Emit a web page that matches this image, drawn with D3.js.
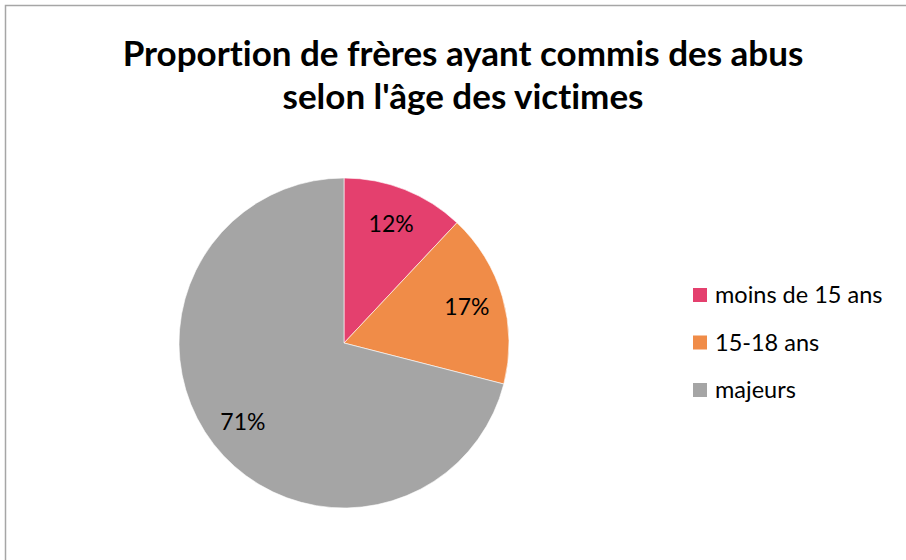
<!DOCTYPE html>
<html>
<head>
<meta charset="utf-8">
<script src="https://cdn.jsdelivr.net/npm/d3@7"></script>
<style>
  body { margin: 0; background: #fff; }
  svg { display: block; font-family: Lato, "Open Sans", sans-serif; font-variant-ligatures: none; }
</style>
</head>
<body>
<script>
// data
var categories = ["moins de 15 ans", "15-18 ans", "majeurs"];
var values = [12, 17, 71];
var colors = ["#E4406E", "#F08C48", "#A5A5A5"];
var titleLines = ["Proportion de frères ayant commis des abus", "selon l'âge des victimes"];

var W = 906, H = 560;

var svg = d3.select("body")
    .append("svg")
    .attr("width", W)
    .attr("height", H);

// chart frame
svg.append("rect")
    .attr("x", 5.5)
    .attr("y", 5.5)
    .attr("width", W + 10)
    .attr("height", H + 10)
    .attr("fill", "#fff")
    .attr("stroke", "#a6a6a6")
    .attr("stroke-width", 1.5);

// title
svg.append("g")
    .selectAll("text")
    .data(titleLines)
    .enter()
    .append("text")
    .attr("x", 463)
    .attr("y", (d, i) => 66 + i * 43)
    .attr("text-anchor", "middle")
    .attr("font-size", 35)
    .attr("font-weight", "bold")
    .attr("fill", "#000")
    .text(d => d);

var cx = 344, cy = 343, R = 165;

var pie = d3.pie().sort(null).value(d => d);
var arcs = pie(values);
var arc = d3.arc().innerRadius(0).outerRadius(R);
var labelArc = d3.arc().innerRadius(128).outerRadius(128);

var g = svg.append("g").attr("transform", "translate(" + cx + "," + cy + ")");

g.selectAll("path")
    .data(arcs)
    .enter()
    .append("path")
    .attr("d", arc)
    .attr("fill", (d, i) => colors[i])
    .attr("stroke", "#fff")
    .attr("stroke-width", 0.6);

g.selectAll("text.pct")
    .data(arcs)
    .enter()
    .append("text")
    .attr("class", "pct")
    .attr("transform", d => "translate(" + labelArc.centroid(d) + ")")
    .attr("text-anchor", "middle")
    .attr("dy", "0.35em")
    .attr("font-size", 23)
    .attr("fill", "#000")
    .text(d => Math.round(d.data) + "%");

// legend
var legend = svg.append("g")
    .selectAll("g")
    .data(categories)
    .enter()
    .append("g")
    .attr("transform", (d, i) => "translate(693," + (288 + i * 47.5) + ")");

legend.append("rect")
    .attr("width", 14)
    .attr("height", 14)
    .attr("fill", (d, i) => colors[i]);

legend.append("text")
    .attr("x", 22)
    .attr("y", 7)
    .attr("dy", "0.35em")
    .attr("font-size", 23.5)
    .attr("fill", "#000")
    .text(d => d);
</script>
</body>
</html>
